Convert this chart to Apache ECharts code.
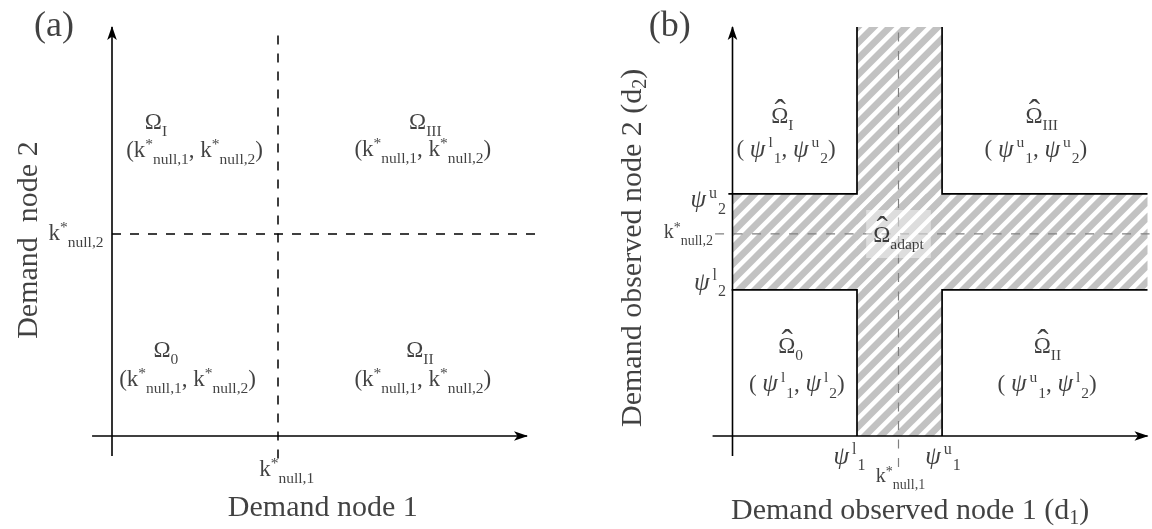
<!DOCTYPE html>
<html>
<head>
<meta charset="utf-8">
<script src="https://cdn.jsdelivr.net/npm/echarts@6/dist/echarts.min.js"></script>
<style>
  html, body { margin: 0; padding: 0; background: #fff; }
  #chart { width: 1152px; height: 529px; }
</style>
</head>
<body>
<div id="chart"></div>
<script>
// ---------- values (demand units) ----------
// null-policy thresholds k*_null,1 and k*_null,2
const kNull = [4.0, 4.94];
// lower / upper bounds of the adaptive band, node 1 and node 2
const psiLower = [3.0, 3.57];
const psiUpper = [5.05, 5.92];
// where the two demand axes end (arrow tips)
const axisEnd = [10, 10];
// region identifiers, in the order 0, I, II, III
const regionIds = ['0', 'I', 'II', 'III'];
// which bound (l / u) of node 1 and node 2 applies in each region of panel (b)
const regionBoundsB = [['l', 'l'], ['l', 'u'], ['u', 'l'], ['u', 'u']];
// axis titles and panel letters
const panelLetters = ['(a)', '(b)'];
const axisTitlesA = ['Demand node 1', 'Demand  node 2'];
const axisTitlesB = ['Demand observed node 1 (d', 'Demand observed node 2 (d'];

// ---------- styles ----------
const SERIF = '"Liberation Serif", "Times New Roman", serif';
const INK = '#111';
const HATCH = '#c2c2c2';
const REGION_SIZE = 23, SMALL_SIZE = 15.5;

function tok(size, extra) {
  return Object.assign({ fontFamily: SERIF, fontSize: size, color: INK, verticalAlign: 'middle' }, extra || {});
}
const rich = {
  L: tok(36),                                        // panel letter
  t: tok(30),                                        // axis title
  ts: tok(20, { padding: [16, 0, 0, 0] }),           // axis title subscript
  r: tok(REGION_SIZE),                               // region text
  ri: tok(25, { fontStyle: 'italic' }),
  rs: tok(SMALL_SIZE, { padding: [18, 0, 0, 0] }),   // subscript
  rp: tok(SMALL_SIZE, { padding: [0, 0, 12, 0] }),   // superscript
  qs: tok(SMALL_SIZE, { padding: [18, 0, 0, 1] }),   // ψ subscript / superscript
  qp: tok(SMALL_SIZE, { padding: [0, 0, 14, 3] }),
  hat: tok(34),                                      // circumflex over Ω
  k: tok(20),                                        // small tick text (panel b)
  ks: tok(14, { padding: [16, 0, 0, 0] }),
  kp: tok(14, { padding: [0, 0, 10, 0] }),
  p: tok(25, { fontStyle: 'italic' }),               // ψ tick text
  ps: tok(16, { padding: [18, 0, 0, 1] }),
  pp: tok(16, { padding: [0, 0, 14, 3] })
};

const kTuple = '{r|(k}{rp|*}{rs|null,1}{r|, k}{rp|*}{rs|null,2}{r|)}';
function psiTuple(b) {
  return '{r|( }{ri|ψ}{qp|' + b[0] + '}{qs|1}{r|, }{ri|ψ}{qp|' + b[1] + '}{qs|2}{r|)}';
}

// text width, used to centre the circumflex over Ω
const measureCtx = document.createElement('canvas').getContext('2d');
function textWidth(size, s) {
  measureCtx.font = size + 'px ' + SERIF;
  return measureCtx.measureText(s).width;
}

// ---------- hatch stripes, clipped to a pixel rectangle ----------
const STRIPE_PERIOD = 16;   // horizontal period of the "/" stripes, px
const STRIPE_WIDTH = 9.5;   // horizontal width of the grey part, px

function clipHalf(poly, keep) {
  // Sutherland–Hodgman against one half-plane given as f(p) >= 0
  const out = [];
  for (let i = 0; i < poly.length; i++) {
    const a = poly[i], b = poly[(i + 1) % poly.length];
    const fa = keep(a), fb = keep(b);
    if (fa >= 0) out.push(a);
    if ((fa >= 0) !== (fb >= 0)) {
      const t = fa / (fa - fb);
      out.push([a[0] + (b[0] - a[0]) * t, a[1] + (b[1] - a[1]) * t]);
    }
  }
  return out;
}
function stripesInRect(x0, y0, x1, y1) {
  const rect = [[x0, y0], [x1, y0], [x1, y1], [x0, y1]];
  const polys = [];
  const cMin = Math.floor((x0 + y0) / STRIPE_PERIOD) * STRIPE_PERIOD - STRIPE_PERIOD;
  for (let c = cMin; c < x1 + y1; c += STRIPE_PERIOD) {
    let p = clipHalf(rect, function (q) { return q[0] + q[1] - c; });
    p = clipHalf(p, function (q) { return c + STRIPE_WIDTH - (q[0] + q[1]); });
    if (p.length >= 3) {
      polys.push({ type: 'polygon', shape: { points: p }, style: { fill: HATCH } });
    }
  }
  return polys;
}

// ---------- helpers ----------
function arrowHead(a, b) {
  const dx = b[0] - a[0], dy = b[1] - a[1];
  const len = Math.hypot(dx, dy);
  const ux = dx / len, uy = dy / len, nx = -uy, ny = ux;
  const L = 13, W = 4.8, N = 9.5;
  return {
    type: 'polygon',
    shape: { points: [
      [b[0] + ux * 1, b[1] + uy * 1],
      [b[0] - ux * L + nx * W, b[1] - uy * L + ny * W],
      [b[0] - ux * N, b[1] - uy * N],
      [b[0] - ux * L - nx * W, b[1] - uy * L - ny * W]
    ] },
    style: { fill: '#000' }
  };
}

function segmentSeries(grid, segs, style, arrow) {
  return {
    type: 'custom', xAxisIndex: grid, yAxisIndex: grid, silent: true, clip: false, z: 3,
    data: segs,
    renderItem: function (params, api) {
      const a = api.coord([api.value(0), api.value(1)]);
      const b = api.coord([api.value(2), api.value(3)]);
      const kids = [{ type: 'line', shape: { x1: a[0], y1: a[1], x2: b[0], y2: b[1] }, style: style }];
      if (arrow) kids.push(arrowHead(a, b));
      return { type: 'group', children: kids };
    }
  };
}

function textSeries(grid, items, z) {
  return {
    type: 'scatter', xAxisIndex: grid, yAxisIndex: grid, silent: true, clip: false, z: z || 10,
    symbolSize: 1,
    itemStyle: { color: 'rgba(0,0,0,0)' },
    label: {
      show: true, position: 'inside', align: 'center', verticalAlign: 'middle',
      formatter: function (p) { return p.name; },
      rich: rich
    },
    data: items.map(function (it) {
      return { name: it.text, value: it.at, label: Object.assign({}, it.label || {}) };
    })
  };
}

// Ω̂ with a subscript: the Ω line plus a circumflex centred over the Ω glyph
function hatOmega(list, sub, at, extraLabel) {
  list.push({ text: '{r|Ω}{rs|' + sub + '}', at: at, label: extraLabel });
  const dx = -textWidth(SMALL_SIZE, sub) / 2;
  list.push({ text: '{hat|ˆ}', at: at, label: { offset: [dx + 0.5, -3] } });
}

// ---------- panel (a) ----------
const axesA = [[-0.48, 0, axisEnd[0], 0], [0, -0.49, 0, axisEnd[1]]];
const dashA = [[kNull[0], -0.55, kNull[0], axisEnd[1]], [0, kNull[1], 10.26, kNull[1]]];

// label anchors for the four regions (Ω line, tuple line)
const omegaAtA = [[1.30, 2.08], [1.06, 7.66], [7.42, 2.08], [7.55, 7.66]];
const tupleAtA = [[1.82, 1.37], [1.99, 6.97], [7.49, 1.37], [7.49, 6.99]];

const textA = [];
regionIds.forEach(function (id, i) {
  textA.push({ text: '{r|Ω}{rs|' + id + '}', at: omegaAtA[i] });
  textA.push({ text: kTuple, at: tupleAtA[i] });
});
textA.push({ text: '{r|k}{rp|*}{rs|null,2}', at: [0, kNull[1]], label: { align: 'right', offset: [-8.5, 0] } });
textA.push({ text: '{r|k}{rp|*}{rs|null,1}', at: [kNull[0], 0], label: { offset: [8.7, 34] } });
textA.push({ text: '{L|' + panelLetters[0] + '}', at: [-1.40, 10.02] });
textA.push({ text: '{t|' + axisTitlesA[0] + '}', at: [5.08, -1.76] });
textA.push({ text: '{t|' + axisTitlesA[1] + '}', at: [-2.0, 4.79], label: { rotate: 90 } });

// ---------- panel (b) ----------
const axesB = [[-0.48, 0, axisEnd[0], 0], [0, -0.49, 0, axisEnd[1]]];
const dashB = [[kNull[0], -0.76, kNull[0], axisEnd[1]], [-0.42, kNull[1], 10.1, kNull[1]]];

const omegaAtB = [[1.40, 2.17], [1.20, 7.79], [7.59, 2.17], [7.45, 7.79]];
const tupleAtB = [[1.55, 1.25], [1.29, 6.99], [7.58, 1.25], [7.31, 6.99]];

const textB = [];
regionIds.forEach(function (id, i) {
  hatOmega(textB, id, omegaAtB[i]);
  textB.push({ text: psiTuple(regionBoundsB[i]), at: tupleAtB[i] });
});
textB.push({ text: '{p|ψ}{pp|u}{ps|2}', at: [0, psiUpper[1]], label: { align: 'right', offset: [-6.5, 7] } });
textB.push({ text: '{p|ψ}{pp|l}{ps|2}', at: [0, psiLower[1]], label: { align: 'right', offset: [-6.5, -7] } });
textB.push({ text: '{k|k}{kp|*}{ks|null,2}', at: [0, kNull[1]], label: { align: 'right', offset: [-19.5, -1] } });
textB.push({ text: '{p|ψ}{pp|l}{ps|1}', at: [psiLower[0], 0], label: { offset: [-7.5, 21] } });
textB.push({ text: '{p|ψ}{pp|u}{ps|1}', at: [psiUpper[0], 0], label: { offset: [1, 21] } });
textB.push({ text: '{k|k}{kp|*}{ks|null,1}', at: [kNull[0], 0], label: { offset: [2, 41] } });
textB.push({ text: '{L|' + panelLetters[1] + '}', at: [-1.51, 10.02] });
textB.push({ text: '{t|' + axisTitlesB[0] + '}{ts|1}{t|)}', at: [4.28, -1.83] });
textB.push({ text: '{t|' + axisTitlesB[1] + '}{ts|2}{t|)}', at: [-2.40, 4.60], label: { rotate: 90 } });

// label of the adaptive region, on a pale box at the crossing of the null thresholds
const adaptText = [];
hatOmega(adaptText, 'adapt', [kNull[0], kNull[1]], {
  backgroundColor: 'rgba(255,255,255,0.55)', padding: [9, 7, 5, 7]
});

// adaptive region: the cross between the lower and upper bounds
const crossSeries = {
  type: 'custom', xAxisIndex: 1, yAxisIndex: 1, silent: true, clip: false, z: 1,
  data: [[psiLower[0], psiLower[1], psiUpper[0], psiUpper[1]]],
  renderItem: function (params, api) {
    const l1 = api.value(0), l2 = api.value(1), u1 = api.value(2), u2 = api.value(3);
    const top = axisEnd[1], right = axisEnd[0];
    const P = function (x, y) { return api.coord([x, y]); };
    const vA = P(l1, top), vB = P(u1, 0);        // vertical arm
    const hA = P(0, u2), hB = P(right, l2);      // horizontal arm
    const edge = { stroke: '#000', lineWidth: 1.7, fill: null };
    const kids = []
      .concat(stripesInRect(vA[0], vA[1], vB[0], vB[1]))
      .concat(stripesInRect(hA[0], hA[1], hB[0], hB[1]));
    kids.push(
      { type: 'polyline', shape: { points: [P(l1, 0), P(l1, l2), P(-0.02, l2)] }, style: edge },
      { type: 'polyline', shape: { points: [P(-0.1, u2), P(l1, u2), P(l1, top)] }, style: edge },
      { type: 'polyline', shape: { points: [P(u1, top), P(u1, u2), P(right, u2)] }, style: edge },
      { type: 'polyline', shape: { points: [P(right, l2), P(u1, l2), P(u1, 0)] }, style: edge }
    );
    return { type: 'group', children: kids };
  }
};

const axisStyle = { stroke: '#000', lineWidth: 1.6 };

const chart = echarts.init(document.getElementById('chart'), null, { renderer: 'canvas' });
chart.setOption({
  animation: false,
  backgroundColor: '#fff',
  grid: [
    { left: 91.25, top: 27, width: 448.2, height: 460.1 },
    { left: 711.75, top: 27, width: 439.9, height: 460.1 }
  ],
  xAxis: [
    { gridIndex: 0, type: 'value', min: -0.5, max: 10.3, show: false },
    { gridIndex: 1, type: 'value', min: -0.5, max: 10.1, show: false }
  ],
  yAxis: [
    { gridIndex: 0, type: 'value', min: -1.25, max: 10, show: false },
    { gridIndex: 1, type: 'value', min: -1.25, max: 10, show: false }
  ],
  series: [
    segmentSeries(0, dashA, { stroke: '#000', lineWidth: 1.5, lineDash: [9, 9] }, false),
    segmentSeries(0, axesA, axisStyle, true),
    textSeries(0, textA),
    crossSeries,
    segmentSeries(1, dashB, { stroke: '#808080', lineWidth: 1.2, lineDash: [9, 9.5] }, false),
    segmentSeries(1, axesB, axisStyle, true),
    textSeries(1, textB),
    textSeries(1, adaptText, 11)
  ]
});
</script>
</body>
</html>
